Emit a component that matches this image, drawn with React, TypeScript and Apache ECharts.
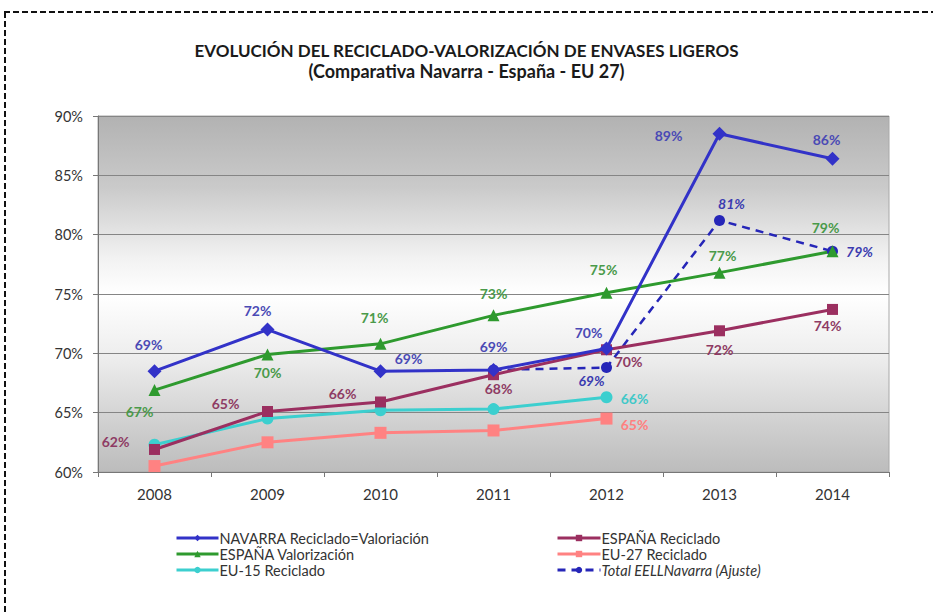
import React, { useEffect, useRef } from "react";
import * as echarts from "echarts";

const years = ["2008", "2009", "2010", "2011", "2012", "2013", "2014"];
const navarra = [68.5, 72.0, 68.5, 68.6, 70.4, 88.5, 86.4];
const espValor = [66.9, 69.9, 70.8, 73.2, 75.1, 76.8, 78.6];
const espRecic = [61.9, 65.1, 65.9, 68.2, 70.3, 71.9, 73.7];
const eu15 = [62.3, 64.5, 65.2, 65.3, 66.3, null, null];
const eu27 = [60.5, 62.5, 63.3, 63.5, 64.5, null, null];
const totalEELL = [null, null, null, 68.6, 68.8, 81.2, 78.6];

const seriesNames = [
  "NAVARRA Reciclado=Valoriación",
  "ESPAÑA Valorización",
  "EU-15 Reciclado",
  "ESPAÑA Reciclado",
  "EU-27 Reciclado",
  "Total EELLNavarra (Ajuste)",
];

// label offsets relative to each point (styling, not data)
type Off = [number, number] | null;
const offNavarra: Off[] = [[-6, -27], [-10, -19], [28, -13], [0, -23], [-18, -16], [-51, 2], [-6, -19]];
const offValor: Off[] = [[-15, 21], [0, 18], [-6, -26], [0, -22], [-3, -23], [3, -17], [-7, -24]];
const offRecic: Off[] = [[-39, -8], [-42, -8], [-38, -8], [5, 14], [22, 12], [0, 19], [-5, 16]];
const offEu15: Off[] = [null, null, null, null, [28, 1], null, null];
const offEu27: Off[] = [null, null, null, null, [28, 6], null, null];
const offTotal: Off[] = [null, null, null, null, [-15, 13], [12, -17], [27, 0]];

const FONT = "Lato, 'Open Sans', sans-serif";

function buildData(vals: (number | null)[], offs: Off[], color: string, italic = false) {
  return vals.map((v, i) => {
    if (v === null) return "-";
    const o = offs[i];
    return {
      value: v,
      label: o
        ? {
            show: true,
            position: "inside",
            offset: o,
            color,
            fontFamily: FONT,
            fontWeight: "bold",
            fontStyle: italic ? "italic" : "normal",
            fontSize: 14,
            formatter: (p: any) => Math.round(p.value) + "%",
          }
        : { show: false },
    };
  });
}

export default function App() {
  const ref = useRef<HTMLDivElement>(null);
  useEffect(() => {
    if (!ref.current) return;
    const chart = echarts.init(ref.current, null, { renderer: "svg" });
    const lineSeries = (
      name: string,
      vals: (number | null)[],
      offs: Off[],
      color: string,
      labelColor: string,
      symbol: string,
      symbolSize: number,
      extra: any = {},
      italic = false
    ) => ({
      name,
      type: "line",
      data: buildData(vals, offs, labelColor, italic),
      symbol,
      symbolSize,
      itemStyle: { color },
      lineStyle: { color, width: 3, ...(extra.lineStyle || {}) },
      connectNulls: false,
      z: extra.z ?? 2,
    });
    const legendText = {
      fontFamily: FONT,
      fontSize: 14.5,
      lineHeight: 16,
      color: "#333",
      padding: [0, 0, 0, -4],
    };
    chart.setOption({
      animation: false,
      backgroundColor: "#ffffff",
      title: [
        {
          text: "EVOLUCIÓN DEL RECICLADO-VALORIZACIÓN DE ENVASES LIGEROS",
          left: "center",
          top: 42,
          padding: 0,
          textStyle: { fontFamily: FONT, fontWeight: "bold", fontSize: 17, color: "#1a1a1a" },
        },
        {
          text: "(Comparativa Navarra - España - EU 27)",
          left: "center",
          top: 62,
          padding: 0,
          textStyle: { fontFamily: FONT, fontWeight: "bold", fontSize: 18, color: "#1a1a1a" },
        },
      ],
      graphic: [
        {
          type: "line",
          shape: { x1: 4, y1: 12, x2: 933, y2: 12 },
          style: { stroke: "#111", lineWidth: 2, lineDash: [6, 3] },
        },
        {
          type: "line",
          shape: { x1: 5, y1: 12, x2: 5, y2: 614 },
          style: { stroke: "#111", lineWidth: 2, lineDash: [6, 3] },
        },
      ],
      grid: {
        left: 98,
        right: 44,
        top: 116,
        height: 356,
        show: true,
        borderColor: "#a8a8a8",
        borderWidth: 1,
        backgroundColor: {
          type: "linear",
          x: 0,
          y: 0,
          x2: 0,
          y2: 1,
          colorStops: [
            { offset: 0, color: "#b2b2b2" },
            { offset: 0.2, color: "#cacaca" },
            { offset: 0.4, color: "#f2f2f2" },
            { offset: 0.5, color: "#ffffff" },
            { offset: 0.68, color: "#ededed" },
            { offset: 0.85, color: "#d2d2d2" },
            { offset: 1, color: "#bcbcbc" },
          ],
        },
      },
      legend: [
        {
          orient: "vertical",
          left: 175,
          top: 530,
          padding: 0,
          itemWidth: 42,
          itemHeight: 8,
          itemGap: 0,
          lineStyle: { width: 3 },
          textStyle: legendText,
          data: [seriesNames[0], seriesNames[1], seriesNames[2]],
        },
        {
          orient: "vertical",
          left: 556,
          top: 530,
          padding: 0,
          itemWidth: 43,
          itemHeight: 8,
          itemGap: 0,
          lineStyle: { width: 3 },
          textStyle: legendText,
          data: [
            seriesNames[3],
            seriesNames[4],
            { name: seriesNames[5], textStyle: { fontStyle: "italic" } },
          ],
        },
      ],
      xAxis: {
        type: "category",
        data: years,
        boundaryGap: true,
        axisLine: { lineStyle: { color: "#777", width: 1 } },
        axisTick: { show: true, length: 5, lineStyle: { color: "#777" } },
        axisLabel: { fontFamily: FONT, fontSize: 15, color: "#333", margin: 14 },
      },
      yAxis: {
        type: "value",
        min: 60,
        max: 90,
        interval: 5,
        axisLine: { show: true, lineStyle: { color: "#777", width: 1 } },
        axisTick: { show: true, length: 5, lineStyle: { color: "#777" } },
        axisLabel: { fontFamily: FONT, fontSize: 14.5, color: "#333", margin: 15, formatter: "{value}%" },
        splitLine: { lineStyle: { color: "#858585", width: 1 } },
      },
      series: [
        {
          ...lineSeries(seriesNames[5], totalEELL, offTotal, "#2626b8", "#3b3bb0", "circle", 11, {}, true),
          lineStyle: { color: "#2626b8", width: 2.5, type: [8, 6] },
        },
        lineSeries(seriesNames[0], navarra, offNavarra, "#3232c8", "#4a4ab5", "diamond", 14, { z: 3 }),
        lineSeries(seriesNames[1], espValor, offValor, "#2e9a2e", "#4a9a4a", "triangle", 12),
        lineSeries(seriesNames[2], eu15, offEu15, "#3ccfcf", "#40c8c8", "circle", 12),
        lineSeries(seriesNames[3], espRecic, offRecic, "#9b2f60", "#8e3b64", "rect", 11),
        lineSeries(seriesNames[4], eu27, offEu27, "#ff8282", "#ff8080", "rect", 12),
      ],
    });
    return () => chart.dispose();
  }, []);
  return (
    <div
      ref={ref}
      style={{ position: "fixed", left: 0, top: 0, width: 933, height: 614 }}
    />
  );
}
